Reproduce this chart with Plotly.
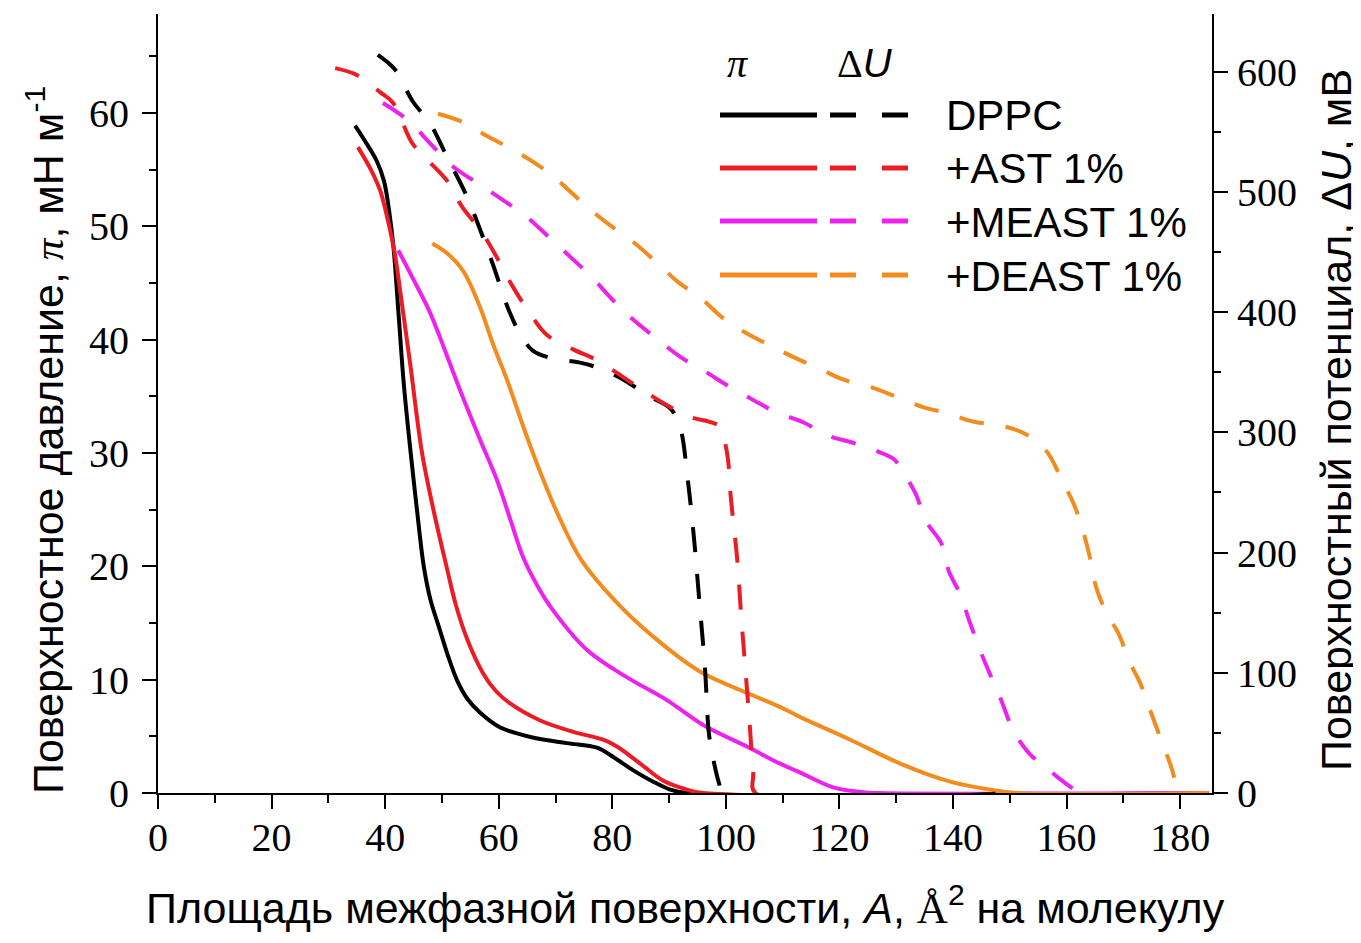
import plotly.graph_objects as go

# ---------------- data ----------------
# Surface pressure isotherms, pi (mN/m) vs area A (A^2 per molecule)
dppc_pi_A = [34.7, 36.5, 38.5, 39.8, 40.8, 41.5, 42.4, 43.3, 44.5, 45.6, 46.8, 48.0, 49.5, 51.0, 52.7, 54.5, 56.7, 60.2, 66.0, 72.0, 77.3, 80.1, 83.7, 87.2, 90.2, 93.0, 185.0]
dppc_pi = [58.9, 57.5, 55.8, 54.0, 51.0, 48.0, 42.0, 36.0, 30.0, 25.0, 20.0, 17.0, 14.6, 12.2, 9.9, 8.3, 7.1, 5.8, 4.9, 4.4, 4.0, 3.2, 2.0, 1.0, 0.3, 0.0, 0.0]

ast_pi_A = [35.2, 37.5, 39.1, 40.5, 41.7, 43.0, 44.4, 46.5, 48.5, 50.8, 52.5, 54.5, 57.2, 59.5, 62.0, 67.3, 73.1, 78.4, 80.8, 84.9, 88.9, 92.5, 96.0, 185.0]
ast_pi = [57.0, 55.0, 53.2, 50.5, 47.6, 43.0, 37.9, 30.0, 25.0, 20.0, 16.5, 13.5, 10.6, 9.0, 7.9, 6.4, 5.4, 4.7, 4.1, 2.6, 1.1, 0.4, 0.0, 0.0]

meast_pi_A = [42.3, 45.0, 47.9, 50.8, 53.7, 56.7, 59.7, 62.0, 64.3, 66.8, 69.6, 75.6, 82.6, 89.6, 96.0, 103.7, 109.5, 113.1, 118.9, 123.6, 127.0, 185.0]
meast_pi = [47.9, 45.3, 42.4, 38.7, 34.9, 31.2, 27.6, 24.2, 20.8, 18.3, 16.1, 12.6, 10.2, 8.2, 6.0, 4.1, 2.6, 1.8, 0.5, 0.1, 0.0, 0.0]

deast_pi_A = [48.3, 51.0, 53.7, 56.7, 59.0, 61.5, 64.0, 66.7, 70.5, 74.5, 80.8, 87.2, 95.5, 103.9, 109.5, 113.1, 121.9, 130.7, 139.5, 146.5, 151.5, 185.0]
deast_pi = [48.5, 47.6, 46.1, 42.9, 39.6, 36.4, 32.8, 29.1, 24.5, 20.6, 16.8, 13.8, 10.7, 8.8, 7.6, 6.7, 4.7, 2.6, 1.0, 0.3, 0.0, 0.0]

# Surface potential, dU (mV) vs area A
dppc_u_A = [38.7, 41.7, 44.9, 47.9, 50.9, 54.4, 58.5, 62.0, 64.0, 66.0, 69.0, 74.3, 77.3, 81.9, 86.1, 90.2, 91.9, 93.3, 94.4, 95.3, 96.3, 97.0, 97.7, 98.8, 99.5, 150.0]
dppc_u = [614, 602, 575, 557, 529, 496, 446, 399, 380, 368, 362, 358, 354, 344, 331, 320, 305, 260, 211, 161, 105, 50, 30, 8, 0, 0]

ast_u_A = [31.2, 34.7, 37.0, 39.1, 41.4, 44.7, 47.4, 51.1, 53.5, 57.1, 60.2, 62.5, 65.5, 68.5, 73.1, 77.3, 81.9, 85.4, 90.2, 94.2, 97.0, 98.8, 100.2, 100.9, 102.0, 102.7, 103.4, 104.1, 104.8, 105.2, 150.0]
ast_u = [603, 598, 591, 583, 574, 541, 527, 508, 488, 466, 441, 421, 399, 381, 369, 360, 346, 335, 321, 312, 309, 305, 283, 244, 194, 147, 105, 63, 17, 0, 0]

meast_u_A = [39.6, 43.9, 48.4, 52.0, 56.7, 60.8, 65.0, 68.7, 72.6, 76.4, 80.1, 83.6, 87.8, 91.9, 96.2, 100.6, 104.8, 108.7, 113.8, 117.6, 122.6, 126.8, 129.5, 130.7, 133.3, 135.4, 137.9, 139.3, 141.3, 142.8, 145.0, 146.4, 148.5, 150.6, 153.4, 157.4, 161.7, 163.0]
meast_u = [574, 560, 538, 521, 506, 493, 479, 463, 446, 429, 410, 394, 378, 363, 351, 338, 327, 317, 308, 298, 291, 284, 278, 271, 250, 225, 208, 184, 165, 144, 116, 100, 77, 52, 33, 17, 2, 0]

deast_u_A = [49.3, 53.7, 58.1, 62.5, 67.3, 70.8, 75.2, 79.1, 83.5, 87.2, 91.6, 95.5, 99.5, 103.4, 108.3, 112.2, 116.9, 120.6, 125.9, 129.8, 134.7, 139.0, 143.5, 147.8, 150.5, 153.0, 156.5, 159.2, 161.3, 162.7, 164.1, 165.2, 167.0, 169.1, 171.2, 172.9, 174.7, 176.8, 178.4, 179.2]
deast_u = [565, 558, 546, 535, 521, 508, 489, 474, 459, 444, 425, 412, 395, 383, 371, 362, 352, 344, 337, 330, 321, 316, 309, 306, 303, 298, 284, 260, 240, 221, 196, 171, 150, 133, 108, 92, 69, 42, 22, 8]

series_names = ["DPPC", "+AST 1%", "+MEAST 1%", "+DEAST 1%"]
series_colors = ["#000000", "#ec1c24", "#ee22ee", "#f28c1e"]

pi_data = [(dppc_pi_A, dppc_pi), (ast_pi_A, ast_pi), (meast_pi_A, meast_pi), (deast_pi_A, deast_pi)]
u_data = [(dppc_u_A, dppc_u), (ast_u_A, ast_u), (meast_u_A, meast_u), (deast_u_A, deast_u)]

x_ticks = list(range(0, 181, 20))
y_ticks = list(range(0, 61, 10))
y2_ticks = list(range(0, 601, 100))

# ---------------- figure ----------------
# the page body has an 8px default margin, so the figure is drawn 8px smaller
OFF = 8
W, H = 1361 - OFF, 943 - 2 * OFF
# plot-area box in screen pixels, converted to figure pixels
L, R, T, B = 158 - OFF, 1212 - OFF, 14 - OFF, 793 - OFF

fig = go.Figure()
for (ax, ay), name, col in zip(u_data, series_names, series_colors):
    fig.add_trace(go.Scatter(x=ax, y=ay, yaxis="y2", mode="lines", name=name + " ΔU",
                             line=dict(color=col, width=4, dash="25px,22px", shape="spline", smoothing=1.0)))
for (ax, ay), name, col in zip(pi_data, series_names, series_colors):
    fig.add_trace(go.Scatter(x=ax, y=ay, mode="lines", name=name + " π",
                             line=dict(color=col, width=4, shape="spline", smoothing=1.0)))

tickfont = dict(family="Liberation Serif, Times New Roman, serif", size=40, color="black")
sans = "Liberation Sans, Arial, sans-serif"
serif = "Liberation Serif, Times New Roman, serif"

common = dict(showgrid=False, zeroline=False, showline=True, linecolor="black", linewidth=2,
              automargin=False,
              ticks="outside", ticklen=14, tickwidth=2, tickcolor="black", tickfont=tickfont)

fig.update_layout(
    template="none",
    width=W, height=H,
    margin=dict(l=L, r=W - R, t=T, b=H - B, pad=0, autoexpand=False),
    plot_bgcolor="white", paper_bgcolor="white",
    showlegend=False,
    xaxis=dict(range=[0, 185.6], tickvals=x_ticks, ticklabelstandoff=-6,
               minor=dict(dtick=10, tick0=0, ticks="outside", ticklen=8, tickwidth=2, tickcolor="black"),
               **common),
    yaxis=dict(range=[0, 68.75], tickvals=y_ticks, ticklabelstandoff=5,
               minor=dict(dtick=5, tick0=0, ticks="outside", ticklen=7, tickwidth=2, tickcolor="black"),
               **common),
    yaxis2=dict(range=[0, 648], tickvals=y2_ticks, overlaying="y", side="right", ticklabelstandoff=1,
                minor=dict(dtick=50, tick0=0, ticks="outside", ticklen=7, tickwidth=2, tickcolor="black"),
                **common),
)


def xp(px):
    """screen x pixel -> paper fraction"""
    return (px - OFF - L) / (R - L)


def yp(py):
    """screen y pixel -> paper fraction"""
    return (B - (py - OFF)) / (B - T)


annotations = []
# axis titles
annotations.append(dict(text="Поверхностное давление, <i style='font-family:%s'>π</i>, мН м<sup>-1</sup>" % serif,
                        xref="paper", yref="paper", x=xp(45), y=yp(440), textangle=-90,
                        xanchor="center", yanchor="middle", showarrow=False,
                        font=dict(family=sans, size=43, color="black")))
annotations.append(dict(text="Поверхностный потенциал, Δ<i>U</i>, мВ",
                        xref="paper", yref="paper", x=xp(1336), y=yp(420), textangle=-90,
                        xanchor="center", yanchor="middle", showarrow=False,
                        font=dict(family=sans, size=43, color="black")))
annotations.append(dict(text="Площадь межфазной поверхности, <i>A</i>, <span style='font-family:%s'>Å</span><sup>2</sup> на молекулу" % serif,
                        xref="paper", yref="paper", x=xp(685), y=yp(905),
                        xanchor="center", yanchor="middle", showarrow=False,
                        font=dict(family=sans, size=43, color="black")))

# custom legend
rows_py = [115, 168, 221, 275]
shapes = []
for name, col, py in zip(series_names, series_colors, rows_py):
    shapes.append(dict(type="line", xref="paper", yref="paper", x0=xp(720), x1=xp(817), y0=yp(py), y1=yp(py),
                       line=dict(color=col, width=5)))
    for a, b in [(830, 856), (882, 908)]:
        shapes.append(dict(type="line", xref="paper", yref="paper", x0=xp(a), x1=xp(b), y0=yp(py), y1=yp(py),
                           line=dict(color=col, width=5)))
    annotations.append(dict(text=name, xref="paper", yref="paper", x=xp(944), y=yp(py + 1),
                            xanchor="left", yanchor="middle", showarrow=False,
                            font=dict(family=sans, size=42, color="black")))
annotations.append(dict(text="<i>π</i>", xref="paper", yref="paper", x=xp(737), y=yp(63),
                        xanchor="center", yanchor="middle", showarrow=False,
                        font=dict(family=serif, size=40, color="black")))
annotations.append(dict(text="<span style='font-family:%s'>Δ</span><i>U</i>" % serif, xref="paper", yref="paper",
                        x=xp(865), y=yp(63), xanchor="center", yanchor="middle", showarrow=False,
                        font=dict(family=sans, size=40, color="black")))

fig.update_layout(annotations=annotations, shapes=shapes)
fig.write_html("out.html")
